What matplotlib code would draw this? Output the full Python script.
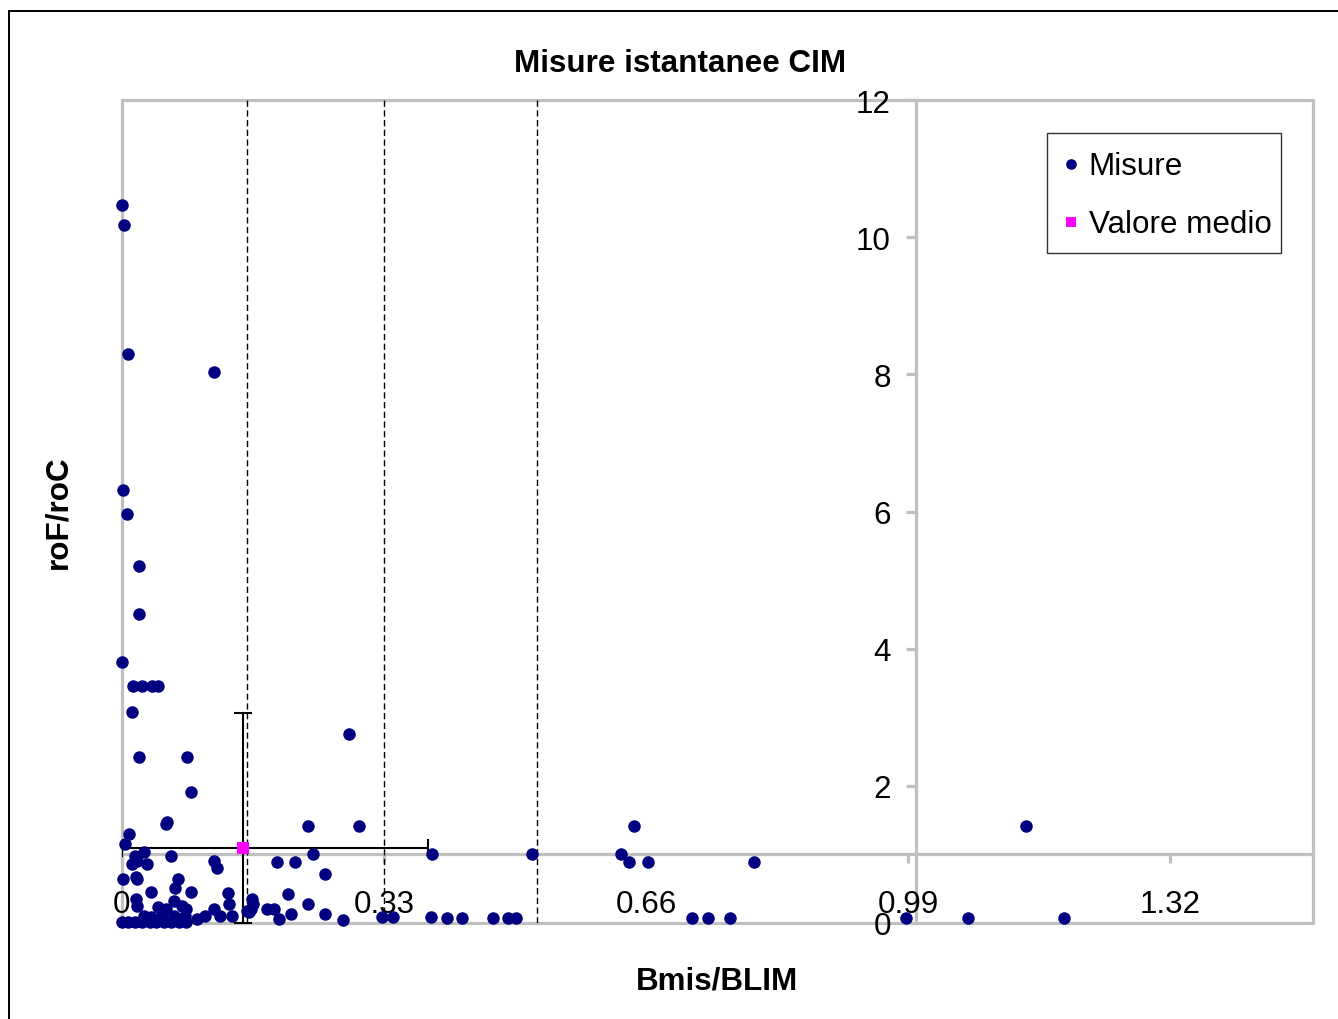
import matplotlib
matplotlib.use("Agg")
import matplotlib.pyplot as plt
import numpy as np
from matplotlib.patches import Rectangle
from matplotlib.lines import Line2D

plt.rcParams['font.family'] = ['Liberation Sans', 'DejaVu Sans']

# ---- data ----
misure_x = [0.000, 0.003, 0.007, 0.116, 0.001, 0.006, 0.022, 0.022, 0.000,
            0.014, 0.025, 0.038, 0.045, 0.012, 0.022, 0.082, 0.087, 0.286,
            0.056, 0.057, 0.234, 0.299, 0.645, 1.138, 0.009, 0.004, 0.390,
            0.517, 0.628, 0.638, 0.663, 0.796, 0.016, 0.028, 0.012, 0.019,
            0.032, 0.062, 0.116, 0.120, 0.195, 0.218, 0.241, 0.256, 0.001,
            0.018, 0.019, 0.070, 0.067, 0.037, 0.087, 0.133, 0.135, 0.018,
            0.019, 0.045, 0.056, 0.066, 0.075, 0.081, 0.116, 0.123, 0.139,
            0.095, 0.104, 0.164, 0.165, 0.163, 0.160, 0.209, 0.234, 0.183,
            0.192, 0.198, 0.213, 0.256, 0.278, 0.327, 0.341, 0.389, 0.409,
            0.428, 0.467, 0.486, 0.496, 0.718, 0.738, 0.766, 0.987, 1.065,
            1.186, 0.028, 0.037, 0.050, 0.066, 0.079, 0.000, 0.008, 0.016,
            0.025, 0.035, 0.043, 0.053, 0.062, 0.072, 0.081, 0.157]
misure_y = [10.47, 10.18, 8.29, 8.04, 6.32, 5.97, 5.21, 4.51, 3.81,
            3.46, 3.46, 3.46, 3.46, 3.08, 2.42, 2.42, 1.91, 2.76,
            1.45, 1.47, 1.42, 1.42, 1.42, 1.42, 1.30, 1.15, 1.00,
            1.01, 1.01, 0.89, 0.89, 0.89, 0.98, 1.04, 0.86, 0.91,
            0.86, 0.98, 0.91, 0.80, 0.89, 0.89, 1.01, 0.72, 0.64,
            0.67, 0.64, 0.64, 0.51, 0.45, 0.45, 0.44, 0.28, 0.35,
            0.25, 0.23, 0.20, 0.32, 0.25, 0.20, 0.20, 0.10, 0.10,
            0.06, 0.10, 0.35, 0.28, 0.20, 0.16, 0.42, 0.28, 0.20,
            0.20, 0.06, 0.13, 0.13, 0.04, 0.09, 0.09, 0.09, 0.07,
            0.07, 0.07, 0.07, 0.07, 0.07, 0.07, 0.07, 0.07, 0.07,
            0.07, 0.10, 0.09, 0.10, 0.10, 0.10, 0.01, 0.01, 0.01,
            0.01, 0.01, 0.01, 0.01, 0.01, 0.01, 0.01, 0.18]

mean_x = [0.152]
mean_y = [1.095]
mean_xerr = [[0.152], [0.233]]
mean_yerr = [[1.095], [1.97]]

threshold_x = [0.158, 0.33, 0.523]

xtick_vals = [0, 0.33, 0.66, 0.99, 1.32]
xtick_labels = ['0', '0.33', '0.66', '0.99', '1.32']
ytick_vals = [0, 2, 4, 6, 8, 10, 12]
ytick_labels = ['0', '2', '4', '6', '8', '10', '12']

title = 'Misure istantanee CIM'
xlabel = 'Bmis/BLIM'
ylabel = 'roF/roC'
legend_labels = ['Misure', 'Valore medio']

# ---- figure ----
W, H = 1338, 1020
fig = plt.figure(figsize=(W / 100, H / 100), dpi=100)
ax = fig.add_axes([122 / W, 1 - 924 / H, (1313 - 122) / W, (924 - 101) / H])
ax.set_xlim(0, 1.5)
ax.set_ylim(0, 12)

gray = '#C0C0C0'
FS = 22.6

# frame of plot area
ax.add_patch(Rectangle((0, 0), 1, 1, transform=ax.transAxes, fill=False,
                       edgecolor=gray, linewidth=2.3, zorder=1, clip_on=False))
for s in ['top', 'right']:
    ax.spines[s].set_visible(False)
ax.spines['left'].set_position(('data', 1.0))
ax.spines['bottom'].set_position(('data', 1.0))
for s in ['left', 'bottom']:
    ax.spines[s].set_color(gray)
    ax.spines[s].set_linewidth(2.3)
    ax.spines[s].set_zorder(1.5)

ax.set_xticks(xtick_vals)
ax.set_xticklabels(xtick_labels)
ax.set_yticks(ytick_vals)
ax.set_yticklabels(ytick_labels)
ax.tick_params(axis='x', direction='out', length=6.5, width=2.3, color=gray,
               labelsize=FS, pad=18.5, labelcolor='black')
ax.tick_params(axis='y', direction='out', length=7, width=2.3, color=gray,
               labelsize=FS, pad=11, labelcolor='black')

# threshold dashed lines
for tx in threshold_x:
    ax.axvline(tx, color='black', linewidth=1.0, linestyle=(0, (4.5, 2.5)), zorder=2)

# error bars
ax.errorbar(mean_x, mean_y, xerr=mean_xerr, yerr=mean_yerr, fmt='none',
            ecolor='black', elinewidth=1.5, capsize=6.5, capthick=1.5, zorder=3)

# points
ax.plot(misure_x, misure_y, linestyle='none', marker='o', markersize=9,
        color='#000080', markeredgewidth=0, label=legend_labels[0],
        zorder=5, clip_on=False)
ax.plot(mean_x, mean_y, linestyle='none', marker='s', markersize=8,
        color='#FF00FF', markeredgewidth=0, label=legend_labels[1],
        zorder=6, clip_on=False)

leg = ax.legend(loc='upper right', bbox_to_anchor=(1281 / W, 1 - 134 / H),
                bbox_transform=fig.transFigure, fontsize=FS, frameon=True,
                fancybox=False, shadow=False, borderaxespad=0, borderpad=0.3,
                handlelength=0.9, handleheight=1.73, handletextpad=0.12,
                labelspacing=0.48, markerscale=0.85)
leg.get_frame().set_edgecolor('black')
leg.get_frame().set_linewidth(1.0)
# centre the legend markers on the text line
for hl in leg.legend_handles:
    yd = np.asarray(hl.get_ydata(), dtype=float)
    hl.set_ydata(yd - 4.0)

# texts
fig.text(680 / W, 1 - 64 / H, title, ha='center', va='center',
         fontsize=FS, fontweight='bold')
fig.text(717 / W, 1 - 982 / H, xlabel, ha='center', va='center',
         fontsize=FS, fontweight='bold')
fig.text(58 / W, 1 - 512 / H, ylabel, ha='center', va='center',
         fontsize=FS, fontweight='bold', rotation=90)

# outer chart border (partially visible)
fig.add_artist(Line2D([9 / W, 1.0], [1 - 12 / H, 1 - 12 / H],
                      transform=fig.transFigure, color='black', linewidth=1.4))
fig.add_artist(Line2D([9 / W, 9 / W], [1 - 12 / H, 0.0],
                      transform=fig.transFigure, color='black', linewidth=1.4))

fig.savefig('out.png', dpi=100)
